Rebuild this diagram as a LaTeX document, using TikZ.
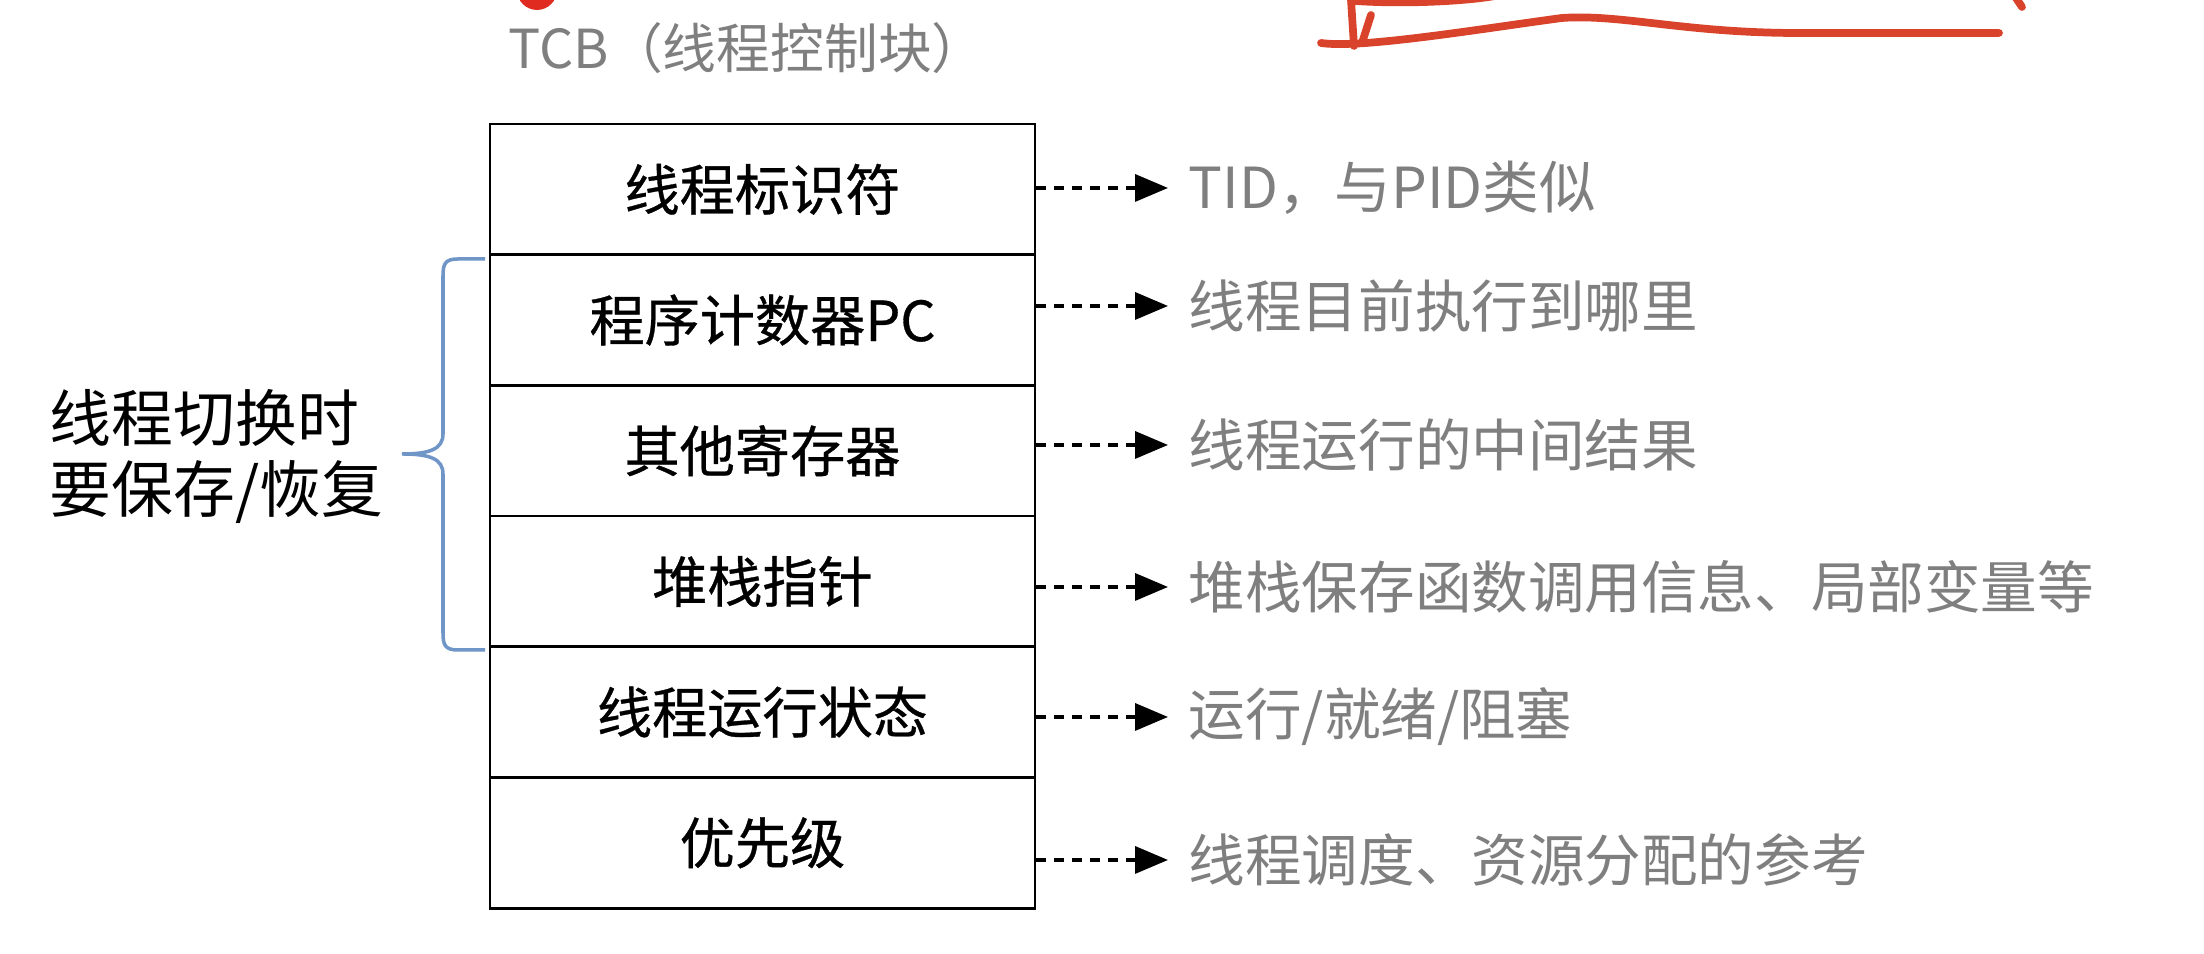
\documentclass[tikz,border=0pt]{standalone}
\usepackage{fontspec}
\setmainfont{Noto Sans CJK SC}
\newfontfamily\cellfont[FakeBold=0.6]{Noto Sans CJK SC}
\usetikzlibrary{arrows.meta}
\definecolor{tgray}{HTML}{7f7f7f}
\definecolor{tblue}{HTML}{6f96c6}
\definecolor{tred}{HTML}{d9432b}
\definecolor{tdot}{HTML}{e02b20}

\tikzset{
  cell/.style={draw=black,line width=0.8pt,minimum width=5.45cm,minimum height=1.307cm,
    inner sep=0pt,font=\cellfont\fontsize{15.7}{18}\selectfont},
  note/.style={anchor=west,inner xsep=0.2cm,inner ysep=0pt,text=tgray,
    font=\fontsize{16.1}{18}\selectfont},
  dasharrow/.style={line width=1pt,dash pattern=on 0.10cm off 0.08cm,
    -{Triangle[length=0.33cm,width=0.27cm]}},
  pen/.style={tred,line width=2.2pt,line cap=round,line join=round}
}

\begin{document}
\begin{tikzpicture}[x=1cm,y=1cm]
  % Page
  \fill[white] (0,0) rectangle (22.04,9.54);
  \useasboundingbox (0,0) rectangle (22.04,9.54);

  % Title
  \node[anchor=west,inner sep=0pt,text=tgray,font=\fontsize{15.3}{18}\selectfont] (title) at (5.08,9.06) {TCB（线程控制块）};

  % The TCB table, one row per field
  \foreach \i/\txt in {1/线程标识符,2/程序计数器PC,3/其他寄存器,4/堆栈指针,5/线程运行状态,6/优先级} {
    \node[cell] (row\i) at (7.625,{8.30-1.307*(\i-0.5)}) {\txt};
  }

  % Notes on the right
  \node[note] (note1) at (11.68,7.66) {TID，与PID类似};
  \node[note] (note2) at (11.68,6.48) {线程目前执行到哪里};
  \node[note] (note3) at (11.68,5.09) {线程运行的中间结果};
  \node[note] (note4) at (11.68,3.67) {堆栈保存函数调用信息、局部变量等};
  \node[note] (note5) at (11.68,2.37) {运行/就绪/阻塞};
  \node[note] (note6) at (11.68,0.94) {线程调度、资源分配的参考};

  \foreach \i in {1,...,6} {
    \draw[dasharrow] (row\i.east |- note\i.west) -- (note\i.west);
  }

  % Brace over the rows saved on a switch
  \draw[tblue,line width=1pt] (4.85,6.95) -- (4.58,6.95)
    .. controls (4.45,6.95) and (4.43,6.90) .. (4.43,6.78) -- (4.43,5.20)
    .. controls (4.43,5.05) and (4.30,5.00) .. (4.02,5.00)
    .. controls (4.30,5.00) and (4.43,4.95) .. (4.43,4.80) -- (4.43,3.21)
    .. controls (4.43,3.09) and (4.45,3.04) .. (4.58,3.04) -- (4.85,3.04);
  \node[anchor=west,inner sep=0pt,align=left,font=\fontsize{17.6}{20.2}\selectfont] (save) at (0.49,4.97) {线程切换时\\要保存/恢复};

  % Pen marks at the top edge
  \fill[tdot] (5.37,9.64) circle (0.20);
  \draw[pen] (13.50,9.70) -- (13.54,9.08);
  \draw[pen] (13.71,9.39) -- (13.62,9.11);
  \draw[pen] (13.21,9.11) .. controls (13.60,9.05) and (14.80,9.25) .. (15.62,9.36)
    .. controls (16.20,9.40) and (16.80,9.22) .. (17.90,9.21) -- (19.99,9.21);
  \draw[pen] (13.55,9.53) .. controls (14.00,9.50) and (14.60,9.52) .. (14.95,9.58);
  \draw[pen] (20.12,9.62) -- (20.22,9.47);
\end{tikzpicture}
\end{document}
